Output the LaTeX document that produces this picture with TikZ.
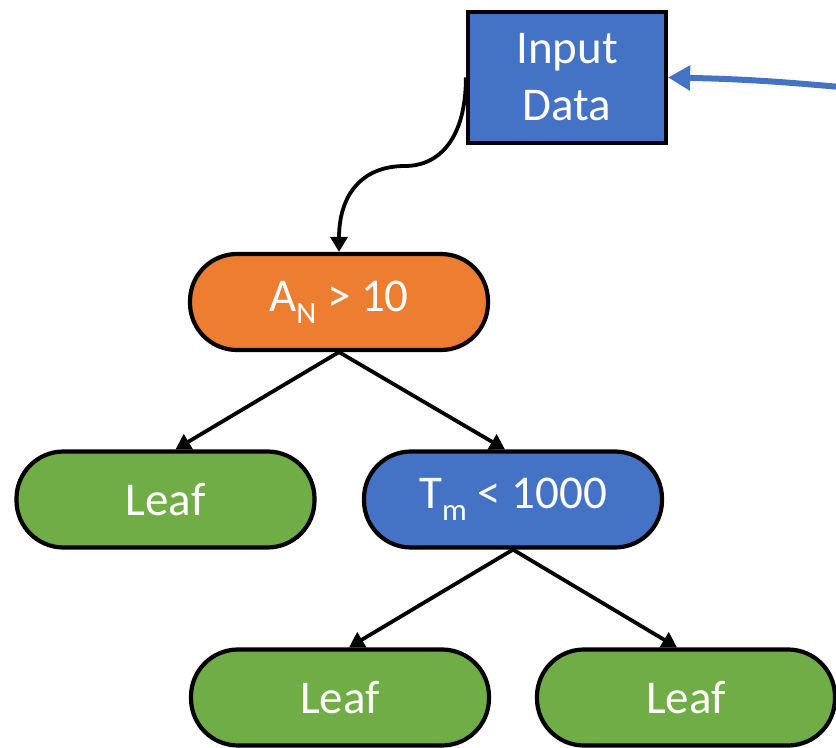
\documentclass[tikz,border=0pt]{standalone}
\usepackage{fontspec}
\setmainfont{Carlito}
\usetikzlibrary{arrows.meta}

\definecolor{boxblue}{HTML}{4472C4}
\definecolor{boxorange}{HTML}{ED7D31}
\definecolor{boxgreen}{HTML}{70AD47}

\newcommand*{\lowtext}[1]{\raisebox{-6pt}{\fontsize{15.5}{15.5}\selectfont #1}}

\begin{document}
\begin{tikzpicture}
[
	x=0.5pt,
	y=-0.5pt,
	datanode/.style={draw,line width=2.1pt,fill=boxblue,text=white,align=center,
	  minimum width=99pt,minimum height=65.5pt,inner sep=0pt,
	  font=\fontsize{23.5}{28.5}\selectfont},
	splitnode/.style={draw,line width=2.1pt,text=white,rounded corners=23.5pt,
	  minimum width=149pt,minimum height=48pt,inner sep=0pt,
	  font=\fontsize{23.5}{28.5}\selectfont},
	edge/.style={line width=1.9pt,-{Triangle[length=7.5pt,width=8.5pt]}}
]

	\useasboundingbox (0,0) rectangle (836,748);

	% nodes
	\node[datanode] (input) at (567,77.5) {Input\\Data};
	\node[splitnode,fill=boxorange] (an) at (339,302) {A\lowtext{N} > 10};
	\node[splitnode,fill=boxgreen] (leafa) at (165.5,499.5) {Leaf};
	\node[splitnode,fill=boxblue] (tm) at (513,499.5) {T\lowtext{m} < 1000};
	\node[splitnode,fill=boxgreen] (leafb) at (340,697.5) {Leaf};
	\node[splitnode,fill=boxgreen] (leafc) at (686,697.5) {Leaf};

	% feedback into the data
	\coordinate (src) at (840,87);
	\draw[boxblue,line width=3pt,-{Triangle[length=11pt,width=12pt]}]
	  (src) to[bend right=2] (input.east);

	% data into the tree
	\coordinate (bend) at (405,166);
	\draw[edge] (input.west) .. controls +(0,60) and +(35,0) .. (bend)
	  .. controls +(-45,0) and +(0,-55) .. (an.north);

	% splits
	\draw[edge] (an.south) -- ([xshift=5]leafa.north);
	\draw[edge] (an.south) -- ([xshift=-4]tm.north);
	\draw[edge] (tm.south) -- ([xshift=4.5]leafb.north);
	\draw[edge] (tm.south) -- ([xshift=-4.5]leafc.north);

\end{tikzpicture}
\end{document}
